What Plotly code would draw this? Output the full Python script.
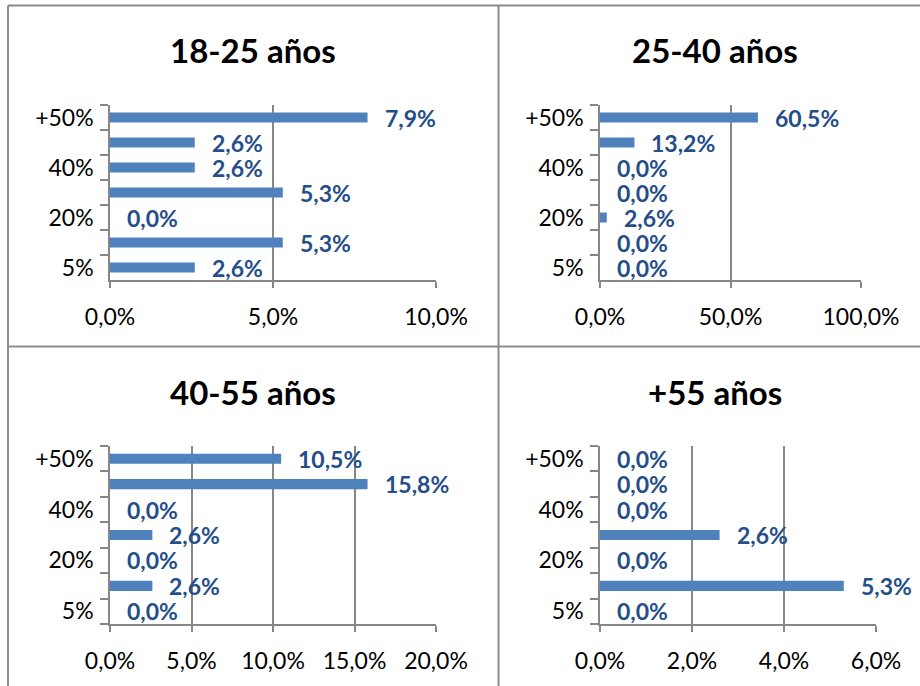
import plotly.graph_objects as go

categories = ["5%", "10%", "20%", "30%", "40%", "50%", "+50%"]
tick_text = ["5%", "", "20%", "", "40%", "", "+50%"]

titles = ["18-25 años", "25-40 años", "40-55 años", "+55 años"]
vals_18_25 = [2.6, 5.3, 0.0, 5.3, 2.6, 2.6, 7.9]
vals_25_40 = [0.0, 0.0, 2.6, 0.0, 0.0, 13.2, 60.5]
vals_40_55 = [0.0, 2.6, 0.0, 2.6, 0.0, 15.8, 10.5]
vals_55 = [0.0, 5.3, 0.0, 2.6, 0.0, 0.0, 0.0]
series = [vals_18_25, vals_25_40, vals_40_55, vals_55]
x_max = [10, 100, 20, 6]
x_step = [5, 50, 5, 2]

W, H = 920, 686
# plot-area pixel boxes (left, right, top, bottom)
boxes = [(110, 436, 105, 280), (600, 861, 105, 280),
         (110, 436, 446, 624), (600, 876, 446, 624)]
title_pos = [(253, 50), (715, 50), (253, 392), (715, 392)]

BAR = "#4F81BD"
LBL = "#254E89"
GRID = "#878787"
FONT = "Lato, Open Sans, sans-serif"
TICK_SIZE = 23
LBL_SIZE = 23
TITLE_SIZE = 33

fig = go.Figure()
layout = dict(
    width=W, height=H, margin=dict(l=0, r=0, t=0, b=0, autoexpand=False),
    template="none",
    paper_bgcolor="white", plot_bgcolor="white", showlegend=False,
    separators=",.", font=dict(family=FONT, color="black", size=TICK_SIZE),
    bargap=0.6,
)
annotations = []
for i, vals in enumerate(series):
    n = "" if i == 0 else str(i + 1)
    xa, ya = "x" + n, "y" + n
    l, r, t, b = boxes[i]
    fig.add_trace(go.Bar(x=vals, y=categories, orientation="h",
                         marker=dict(color=BAR, line=dict(width=0)),
                         xaxis=xa, yaxis=ya, hoverinfo="skip"))
    layout["xaxis" + n] = dict(
        domain=[l / W, r / W], anchor=ya, range=[0, x_max[i]], automargin=False,
        tickmode="linear", tick0=0, dtick=x_step[i], tickformat=".1f", ticksuffix="%",
        showgrid=True, gridcolor=GRID, gridwidth=1.5, zeroline=False,
        showline=True, linecolor=GRID, linewidth=1.5,
        ticks="outside", ticklen=6, tickcolor=GRID, tickwidth=1.5,
        ticklabelstandoff=10, tickfont=dict(size=TICK_SIZE, family=FONT, color="black"),
        fixedrange=True,
    )
    layout["yaxis" + n] = dict(
        domain=[1 - b / H, 1 - t / H], anchor=xa, type="category", automargin=False,
        categoryorder="array", categoryarray=categories,
        tickmode="array", tickvals=categories, ticktext=tick_text,
        tickson="boundaries", ticks="outside", ticklen=8, tickcolor=GRID, tickwidth=1.5,
        showline=True, linecolor=GRID, linewidth=1.5, showgrid=False, zeroline=False,
        ticklabelstandoff=10, tickfont=dict(size=TICK_SIZE, family=FONT, color="black"),
        range=[-0.5, 6.5], fixedrange=True,
    )
    for c, v in zip(categories, vals):
        annotations.append(dict(
            x=v, y=c, xref=xa, yref=ya, text=("%.1f" % v).replace(".", ",") + "%",
            showarrow=False, xanchor="left", yanchor="middle", xshift=15,
            font=dict(size=LBL_SIZE, family=FONT, color=LBL, weight="bold"),
        ))
    tx, ty = title_pos[i]
    annotations.append(dict(
        x=tx / W, y=1 - ty / H, xref="paper", yref="paper", text="<b>%s</b>" % titles[i],
        showarrow=False, xanchor="center", yanchor="middle",
        font=dict(size=TITLE_SIZE, family=FONT, color="black"),
    ))

BORDER = "#8C8C8C"
shapes = [
    dict(type="line", xref="paper", yref="paper", x0=8 / W, x1=1, y0=1 - 5.5 / H, y1=1 - 5.5 / H,
         line=dict(color=BORDER, width=2)),
    dict(type="line", xref="paper", yref="paper", x0=8 / W, x1=8 / W, y0=0, y1=1 - 5.5 / H,
         line=dict(color=BORDER, width=2)),
    dict(type="line", xref="paper", yref="paper", x0=498.5 / W, x1=498.5 / W, y0=0, y1=1 - 5.5 / H,
         line=dict(color=BORDER, width=2)),
    dict(type="line", xref="paper", yref="paper", x0=8 / W, x1=1, y0=1 - 346.5 / H, y1=1 - 346.5 / H,
         line=dict(color=BORDER, width=2)),
]
layout["annotations"] = annotations
layout["shapes"] = shapes
fig.update_layout(**layout)
fig.write_html("out.html", config={"displayModeBar": False},
               post_script="document.body.style.margin='0px';document.body.style.padding='0px';")
